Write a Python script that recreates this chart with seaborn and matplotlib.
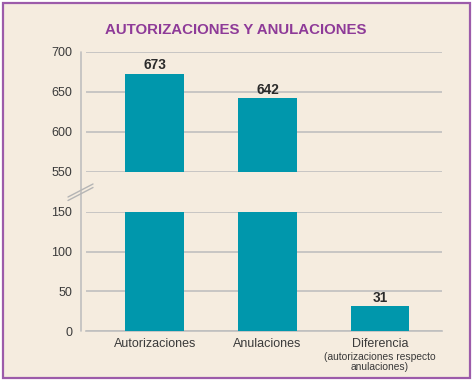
import pandas as pd
import seaborn as sns
from matplotlib import pyplot as plt
from matplotlib.lines import Line2D
from matplotlib.patches import Rectangle

categories = ["Autorizaciones", "Anulaciones", "Diferencia"]
values = [673, 642, 31]
sub_label = "(autorizaciones respecto\nanulaciones)"
top_ticks = [550, 600, 650, 700]
bottom_ticks = [0, 50, 100, 150]

BAR = "#0097AC"
PURPLE = "#8E3A98"
BORDER = "#9C5BAA"
BG = "#F5ECDF"
GRID = "#BFBFBF"
TEXT = "#3A3A3A"

sns.set_theme(style="white")
plt.rcParams["font.family"] = ["Liberation Sans", "DejaVu Sans"]

df = pd.DataFrame({"categoria": categories, "valor": values})

W, H = 474, 382
fig = plt.figure(figsize=(W / 100, H / 100), dpi=100)
fig.patch.set_facecolor("white")

# panel background with purple frame
fig.patches.append(Rectangle((2.5 / W, 1 - 378 / H), 467 / W, 375 / H,
                             transform=fig.transFigure, facecolor=BG,
                             edgecolor=BORDER, linewidth=1.6, zorder=-5))


def px(x0, y_top, x1, y_bottom):
    return [x0 / W, 1 - y_bottom / H, (x1 - x0) / W, (y_bottom - y_top) / H]


ax_top = fig.add_axes(px(86, 52, 442, 172))
ax_bot = fig.add_axes(px(86, 212, 442, 331))

for ax in (ax_top, ax_bot):
    sns.barplot(data=df, x="categoria", y="valor", color=BAR, width=0.52,
                saturation=1, linewidth=0, ax=ax, zorder=3)
    ax.set_facecolor("none")
    ax.set_xlim(-0.61, 2.55)
    ax.set_xlabel("")
    ax.set_ylabel("")
    for s in ax.spines.values():
        s.set_visible(False)
    ax.yaxis.grid(True, color=GRID, linewidth=1.2)
    ax.set_axisbelow(True)
    ax.tick_params(axis="y", length=0, pad=10, labelsize=9, labelcolor=TEXT)

ax_top.set_ylim(550, 700)
ax_top.set_yticks(top_ticks)
ax_top.set_xticks([])

ax_bot.set_ylim(0, 150)
ax_bot.set_yticks(bottom_ticks)
ax_bot.spines["bottom"].set_visible(True)
ax_bot.spines["bottom"].set_color(GRID)
ax_bot.spines["bottom"].set_linewidth(1.2)
ax_bot.set_xticks(range(len(categories)))
ax_bot.set_xticklabels(categories, fontsize=9, color=TEXT)
ax_bot.set_xticks([0.5, 1.5], minor=True)
ax_bot.tick_params(axis="x", which="major", length=0, pad=5)
ax_bot.tick_params(axis="x", which="minor", length=8, width=1, color="#DCDCDC",
                   direction="out")

ax_bot.text(2, -0.18, sub_label, transform=ax_bot.get_xaxis_transform(),
            ha="center", va="top", fontsize=7.4, color=TEXT, linespacing=1.0)

# value labels
for i, v in enumerate(values):
    ax = ax_top if v > 550 else ax_bot
    ax.annotate(str(v), (i, v), xytext=(0, 1), textcoords="offset points",
                ha="center", va="bottom", fontsize=9.8, fontweight="bold",
                color="#2B2B2B", clip_on=False)

# shared y axis line and break marks
fig.add_artist(Line2D([80.5 / W, 80.5 / W], [1 - 52 / H, 1 - 331 / H],
                      transform=fig.transFigure, color=GRID, linewidth=1.2))
for dy in (0, 3.5):
    fig.add_artist(Line2D([68 / W, 93 / W],
                          [1 - (197 + dy) / H, 1 - (184 + dy) / H],
                          transform=fig.transFigure, color="#B5B5B5",
                          linewidth=1.0))

fig.text(236 / W, 1 - 30 / H, "AUTORIZACIONES Y ANULACIONES", ha="center",
         va="center", fontsize=10.8, fontweight="bold", color=PURPLE)

fig.savefig("out.png", dpi=100, facecolor=fig.get_facecolor())
